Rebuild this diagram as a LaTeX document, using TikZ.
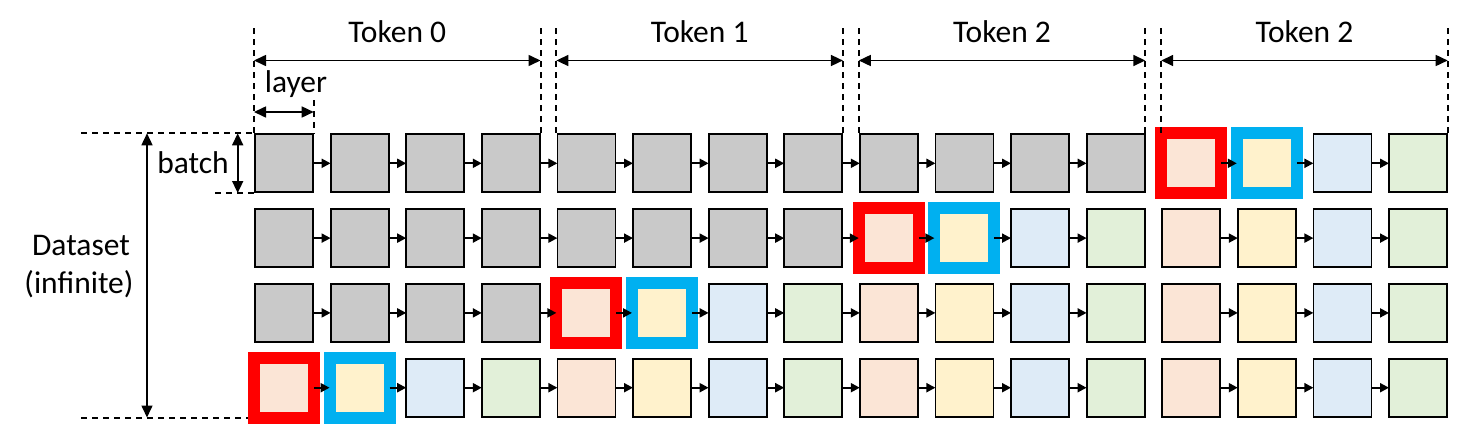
\documentclass[tikz,border=0pt]{standalone}
\usepackage{fontspec}
\setmainfont{Carlito}
\usetikzlibrary{arrows.meta}
\definecolor{cgray}{HTML}{C9C9C9}
\definecolor{cpink}{HTML}{FBE5D6}
\definecolor{cyel}{HTML}{FFF2CC}
\definecolor{clblue}{HTML}{DEEBF7}
\definecolor{cgreen}{HTML}{E2F0D9}
\definecolor{cred}{HTML}{FF0000}
\definecolor{ccyan}{HTML}{00B0F0}
\tikzset{
  box/.style={draw=black, line width=0.9pt, minimum size=29pt, inner sep=0pt, outer sep=0pt},
  graybox/.style={box, fill=cgray},
  pinkbox/.style={box, fill=cpink},
  yelbox/.style={box, fill=cyel},
  lbluebox/.style={box, fill=clblue},
  greenbox/.style={box, fill=cgreen},
  redbox/.style={box, draw=cred, line width=6pt, minimum size=30pt, fill=cpink},
  bluebox/.style={box, draw=ccyan, line width=6pt, minimum size=30pt, fill=cyel},
  link/.style={line width=1pt, -{Triangle[length=4.5pt,width=4.5pt]}},
  dim/.style={line width=0.8pt, {Triangle[length=6pt,width=5.5pt]}-{Triangle[length=6pt,width=5.5pt]}},
  guide/.style={line width=1pt, dash pattern=on 3pt off 2.5pt},
  lbl/.style={font=\fontsize{15.75}{19}\selectfont, inner sep=0pt, anchor=base}
}
\begin{document}
\begin{tikzpicture}[x=0.5pt,y=-0.5pt]
\useasboundingbox (0,0) rectangle (1463,434);
% boxes
\foreach \r in {0,...,3}{
  \foreach \c in {0,...,15}{
    \pgfmathtruncatemacro{\rc}{12-4*\r}
    \pgfmathtruncatemacro{\rcp}{13-4*\r}
    \pgfmathtruncatemacro{\m}{mod(\c,4)}
    \ifnum\c<\rc \def\sty{graybox}\else
      \ifnum\c=\rc \def\sty{redbox}\else
        \ifnum\c=\rcp \def\sty{bluebox}\else
          \ifcase\m \def\sty{pinkbox}\or \def\sty{yelbox}\or \def\sty{lbluebox}\or \def\sty{greenbox}\fi
        \fi
      \fi
    \fi
    \node[\sty] (b-\r-\c) at ({284+75.6*\c},{163.3+74.8*\r}) {};
  }
}
% links
\foreach \r in {0,...,3}{
  \foreach \c in {0,...,14}{
    \pgfmathtruncatemacro{\n}{\c+1}
    \ifnum\c=11 \else
      \draw[link] (b-\r-\c.east) -- (b-\r-\n.west);
    \fi
  }
}
% token dimension guides
\foreach \k/\txt in {0/Token 0,1/Token 1,2/Token 2,3/Token 2}{
  \pgfmathsetmacro{\xl}{254+75.6*4*\k}
  \pgfmathsetmacro{\xr}{313.7+75.6*(4*\k+3)}
  \coordinate (tl\k) at (\xl,28);
  \coordinate (tlb\k) at (\xl,133.3);
  \coordinate (tr\k) at (\xr,28);
  \coordinate (trb\k) at (\xr,133.3);
  \coordinate (al\k) at (\xl,60.5);
  \coordinate (ar\k) at (\xr,60.5);
  \draw[guide] (tl\k) -- (tlb\k);
  \draw[guide] (tr\k) -- (trb\k);
  \draw[dim] (al\k) -- (ar\k);
  \node[lbl] (tok\k) at ({(\xl+\xr)/2},42.7) {\txt};
}
% layer
\coordinate (ly1) at (313.7,100);
\coordinate (ly2) at (313.7,133.3);
\coordinate (la) at (254,112);
\coordinate (lb) at (313.7,112);
\draw[guide] (ly1) -- (ly2);
\draw[dim] (la) -- (lb);
\node[lbl] (layer) at (296,92.7) {layer};
% batch and dataset
\coordinate (h1a) at (81,133.3);
\coordinate (h1b) at (254,133.3);
\coordinate (h2a) at (215,193);
\coordinate (h2b) at (254,193);
\coordinate (h3a) at (81,417.5);
\coordinate (h3b) at (248,417.5);
\draw[guide] (h1a) -- (h1b);
\draw[guide] (h2a) -- (h2b);
\draw[guide] (h3a) -- (h3b);
\coordinate (ba) at (237.7,133.3);
\coordinate (bb) at (237.7,193);
\draw[dim] (ba) -- (bb);
\node[lbl] (batch) at (193,173.3) {batch};
\coordinate (da) at (147,133.3);
\coordinate (db) at (147,417.5);
\draw[dim] (da) -- (db);
\node[lbl] (ds1) at (81,255) {Dataset};
\node[lbl] (ds2) at (79,293.3) {(infinite)};
\end{tikzpicture}
\end{document}
